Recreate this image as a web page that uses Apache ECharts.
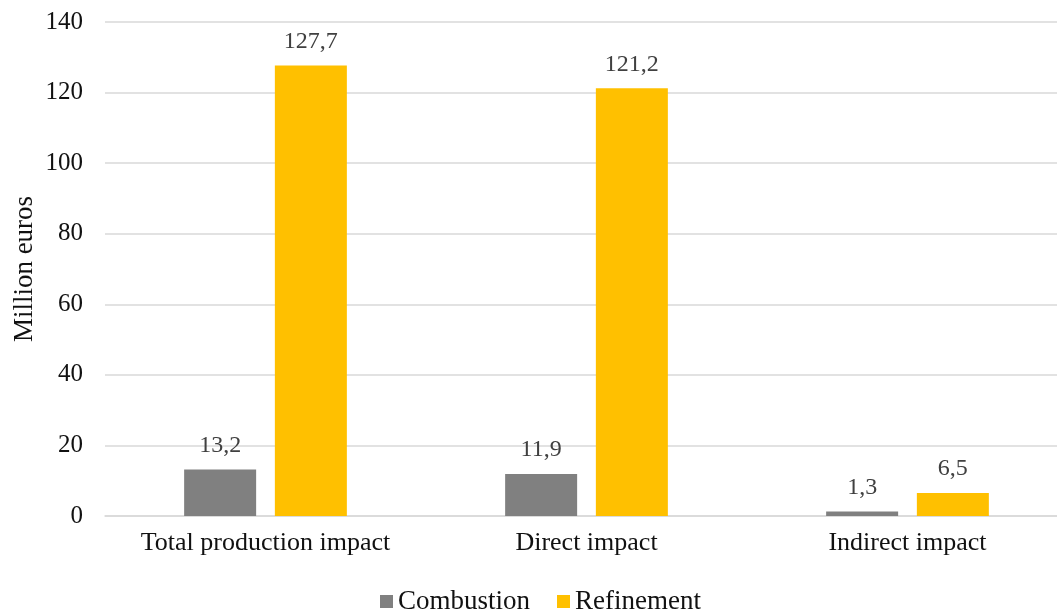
<!DOCTYPE html>
<html>
<head>
<meta charset="utf-8">
<script src="https://cdn.jsdelivr.net/npm/echarts@6/dist/echarts.min.js"></script>
<style>
  html, body { margin: 0; padding: 0; background: #fff; }
  #chart { width: 1057px; height: 613px; }
</style>
</head>
<body>
<div id="chart"></div>
<script>
// Economic impact by activity, million euros
const categories = ['Total production impact', 'Direct impact', 'Indirect impact'];
const combustion = [13.2, 11.9, 1.3];
const refinement = [127.7, 121.2, 6.5];
const yTicks = { min: 0, max: 140, interval: 20 };

const FONT = '"Liberation Serif", "DejaVu Serif", serif';
const commaFmt = p => String(p.value).replace('.', ',');

const chart = echarts.init(document.getElementById('chart'), null, { renderer: 'canvas' });
chart.setOption({
  animation: false,
  textStyle: { fontFamily: FONT },
  grid: { left: 105, top: 22, width: 963, bottom: 97, containLabel: false, outerBoundsMode: 'none' },
  xAxis: {
    type: 'category',
    data: categories,
    axisTick: { show: false },
    axisLine: { lineStyle: { color: '#d9d9d9', width: 1.5 } },
    axisLabel: { color: '#111', fontSize: 26, fontFamily: FONT, margin: 14, interval: 0, hideOverlap: false }
  },
  yAxis: {
    type: 'value',
    min: yTicks.min, max: yTicks.max, interval: yTicks.interval,
    name: 'Million euros',
    nameLocation: 'middle',
    nameGap: 67,
    nameMoveOverlap: false,
    nameTextStyle: { color: '#111', fontSize: 27, fontFamily: FONT },
    axisLabel: { color: '#111', fontSize: 25, fontFamily: FONT, margin: 22 },
    axisLine: { show: false },
    axisTick: { show: false },
    splitLine: { lineStyle: { color: '#d9d9d9', width: 1.5 } }
  },
  legend: {
    bottom: -7,
    left: 375,
    itemWidth: 13, itemHeight: 13, itemGap: 27,
    icon: 'rect',
    textStyle: { color: '#111', fontSize: 27, fontFamily: FONT },
    data: ['Combustion', 'Refinement']
  },
  series: [
    {
      name: 'Combustion', type: 'bar', data: combustion,
      barWidth: 72, barGap: '26%',
      itemStyle: { color: '#808080' },
      label: { show: true, position: 'top', distance: 12, color: '#404040', fontSize: 24, fontFamily: FONT, formatter: commaFmt }
    },
    {
      name: 'Refinement', type: 'bar', data: refinement,
      barWidth: 72,
      itemStyle: { color: '#ffc000' },
      label: { show: true, position: 'top', distance: 12, color: '#404040', fontSize: 24, fontFamily: FONT, formatter: commaFmt }
    }
  ]
});
</script>
</body>
</html>
